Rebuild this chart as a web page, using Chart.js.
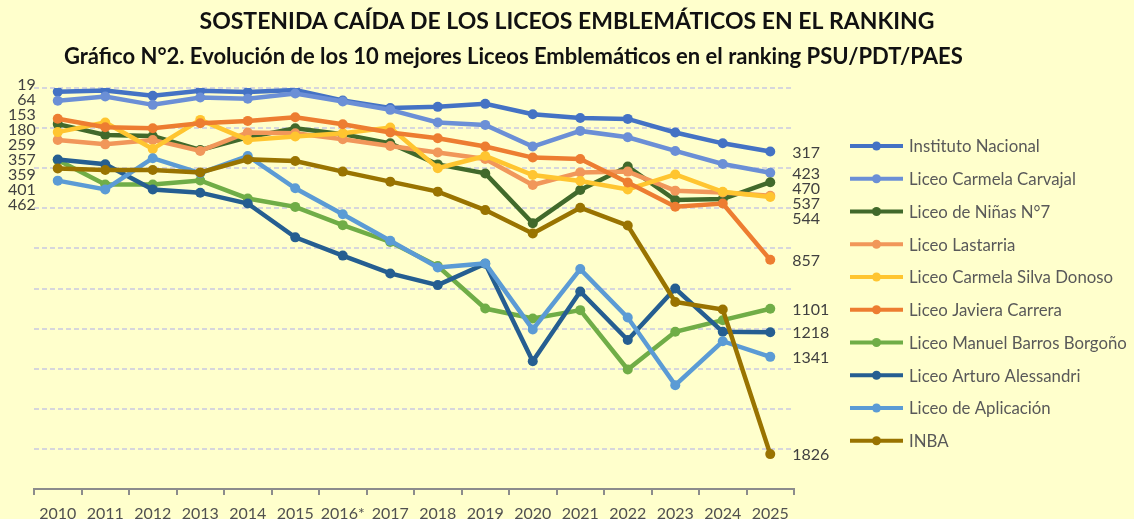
<!DOCTYPE html>
<html>
<head>
<meta charset="utf-8">
<script src="https://cdn.jsdelivr.net/npm/chart.js@4.4.1/dist/chart.umd.min.js"></script>
<style>
  html, body { margin: 0; padding: 0; background: #FFFFCC; }
  #wrap { width: 1134px; height: 519px; position: relative; }
</style>
</head>
<body>
<div id="wrap"><canvas id="c" width="1134" height="519"></canvas></div>
<script>
// ---------- DATA ----------
const years = ['2010','2011','2012','2013','2014','2015','2016*','2017','2018','2019','2020','2021','2022','2023','2024','2025'];

const institutoNacional   = [19, 12, 39, 14, 20, 10, 62, 100, 94, 79, 131, 150, 154, 222, 276, 317];
const carmelaCarvajal     = [64, 42, 84, 47, 54, 27, 67, 109, 172, 184, 292, 214, 246, 314, 379, 423];
const ninasN7             = [180, 234, 239, 309, 246, 201, 230, 276, 381, 426, 675, 509, 392, 559, 554, 470];
const lastarria           = [259, 281, 259, 314, 222, 226, 256, 289, 322, 354, 484, 421, 417, 512, 521, 537];
const carmelaSilvaDonoso  = [220, 172, 304, 159, 259, 242, 226, 197, 400, 339, 434, 464, 506, 431, 518, 544];
const javieraCarrera      = [153, 196, 201, 176, 164, 146, 181, 222, 251, 292, 347, 354, 471, 592, 576, 857];
const manuelBarrosBorgono = [359, 481, 481, 461, 551, 593, 684, 768, 888, 1100, 1150, 1108, 1404, 1216, 1158, 1101];
const arturoAlessandri    = [357, 380, 506, 522, 576, 745, 836, 925, 983, 876, 1363, 1015, 1257, 1000, 1216, 1218];
const liceoAplicacion     = [462, 506, 350, 425, 339, 500, 630, 762, 895, 875, 1204, 903, 1145, 1482, 1263, 1341];
const inba                = [401, 409, 409, 421, 356, 364, 417, 467, 517, 609, 726, 597, 686, 1067, 1105, 1826];

const seriesNames = ['Instituto Nacional','Liceo Carmela Carvajal','Liceo de Niñas N°7','Liceo Lastarria',
  'Liceo Carmela Silva Donoso','Liceo Javiera Carrera','Liceo Manuel Barros Borgoño','Liceo Arturo Alessandri',
  'Liceo de Aplicación','INBA'];
const seriesValues = [institutoNacional, carmelaCarvajal, ninasN7, lastarria, carmelaSilvaDonoso,
  javieraCarrera, manuelBarrosBorgono, arturoAlessandri, liceoAplicacion, inba];
// series whose first value is labelled at the left
const leftLabelled = [true, true, true, true, false, true, true, true, true, true];

const yTicks = [0, 200, 400, 600, 800, 1000, 1200, 1400, 1600, 1800, 2000];

const titleText = 'SOSTENIDA CAÍDA DE LOS LICEOS EMBLEMÁTICOS EN EL RANKING';
const subtitleText = 'Gráfico N°2. Evolución de los 10 mejores Liceos Emblemáticos en el ranking PSU/PDT/PAES';

// ---------- STYLE ----------
const colors = ['#4472C4','#6B8FD6','#41692B','#F1975A','#FFC530','#ED7D31','#70AD47','#255E91','#5B9BD5','#997300'];
const FONT = 'Lato, "Noto Sans", sans-serif';

const datasets = seriesValues.map((vals, i) => ({
  label: seriesNames[i],
  data: vals,
  borderColor: colors[i],
  backgroundColor: colors[i],
  pointBackgroundColor: colors[i],
  pointBorderColor: colors[i],
  borderWidth: 4.5,
  pointRadius: 5,
  pointBorderWidth: 0,
  pointHoverRadius: 5,
  tension: 0,
  order: seriesValues.length - i
}));

function spreadLabels(items, gap) {
  items.sort((a, b) => a.y - b.y);
  for (let k = 1; k < items.length; k++) {
    if (items[k].y < items[k-1].y + gap) items[k].y = items[k-1].y + gap;
  }
  return items;
}

const decor = {
  id: 'decor',
  beforeDraw(chart) {
    const ctx = chart.ctx;
    ctx.save();
    ctx.fillStyle = '#FFFFCC';
    ctx.fillRect(0, 0, chart.width, chart.height);
    ctx.restore();
  },
  afterDatasetsDraw(chart) {
    const ctx = chart.ctx;
    ctx.save();
    // titles
    ctx.fillStyle = '#111111';
    ctx.textBaseline = 'middle';
    ctx.font = 'bold 23px ' + FONT;
    ctx.textAlign = 'center';
    ctx.fillText(titleText, 567, 22);
    ctx.font = 'bold 22px ' + FONT;
    ctx.textAlign = 'left';
    ctx.fillText(subtitleText, 64, 57);

    // value labels
    ctx.font = '16px ' + FONT;
    ctx.fillStyle = '#404040';
    const left = [], right = [];
    chart.data.datasets.forEach((ds, i) => {
      const meta = chart.getDatasetMeta(i);
      const p0 = meta.data[0], pN = meta.data[meta.data.length - 1];
      if (leftLabelled[i]) left.push({ x: p0.x - 22, y: p0.y - 7, t: String(ds.data[0]) });
      right.push({ x: pN.x + 22, y: pN.y + 1, t: String(ds.data[ds.data.length - 1]) });
    });
    ctx.textAlign = 'right';
    spreadLabels(left, 15).forEach(l => ctx.fillText(l.t, l.x, l.y));
    ctx.textAlign = 'left';
    spreadLabels(right, 15).forEach(l => ctx.fillText(l.t, l.x, l.y));

    // legend
    const lx0 = 850, lx1 = 903, ly0 = 146, lstep = 32.75;
    ctx.font = '16.8px ' + FONT;
    chart.data.datasets.forEach((ds, i) => {
      const y = ly0 + i * lstep;
      ctx.strokeStyle = ds.borderColor;
      ctx.lineWidth = 4;
      ctx.beginPath(); ctx.moveTo(lx0, y); ctx.lineTo(lx1, y); ctx.stroke();
      ctx.fillStyle = ds.borderColor;
      ctx.beginPath(); ctx.arc((lx0 + lx1) / 2, y, 4.5, 0, Math.PI * 2); ctx.fill();
      ctx.fillStyle = '#595959';
      ctx.fillText(ds.label, 909, y + 1);
    });
    ctx.restore();
  }
};

new Chart(document.getElementById('c'), {
  type: 'line',
  data: { labels: years, datasets },
  options: {
    responsive: false,
    animation: false,
    events: [],
    layout: { padding: { left: 34, right: 340, top: 88, bottom: 0 } },
    plugins: { legend: { display: false }, title: { display: false }, tooltip: { enabled: false } },
    scales: {
      x: {
        type: 'category',
        offset: true,
        border: { display: true, color: '#8C8C8C', width: 2 },
        grid: { display: true, drawOnChartArea: false, drawTicks: true, tickLength: 6, color: '#8C8C8C', lineWidth: 2, offset: true },
        ticks: { color: '#505050', font: { family: FONT, size: 16 }, padding: 9, maxRotation: 0, autoSkip: false },
        afterFit(scale) { scale.height = 30; }
      },
      y: {
        reverse: true,
        min: 0,
        max: 2000,
        afterBuildTicks(scale) { scale.ticks = yTicks.map(v => ({ value: v })); },
        border: { display: false, dash: [5, 3] },
        grid: {
          drawTicks: false,
          lineWidth: 2,
          color: (c) => (c.tick && c.tick.value === 2000) ? 'rgba(0,0,0,0)' : '#D6D6DC',
          borderDash: [5, 3]
        },
        ticks: { display: false },
        afterFit(scale) { scale.width = 0; }
      }
    }
  },
  plugins: [decor]
});
</script>
</body>
</html>
